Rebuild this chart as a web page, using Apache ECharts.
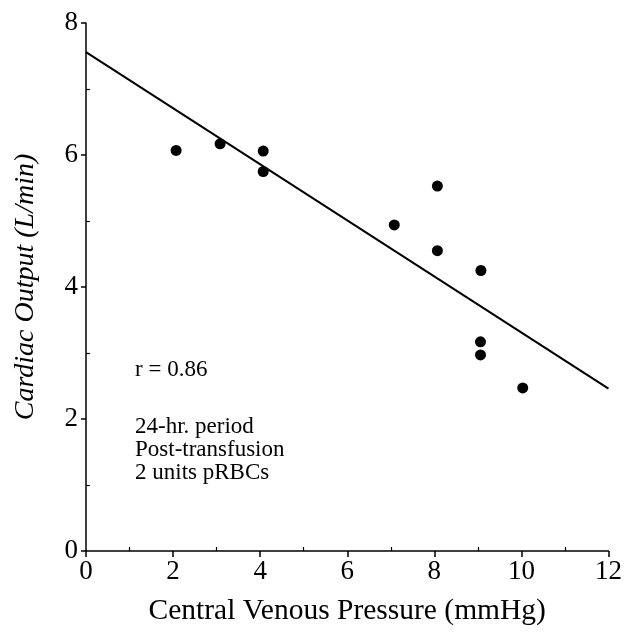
<!DOCTYPE html>
<html>
<head>
<meta charset="utf-8">
<script src="https://cdn.jsdelivr.net/npm/echarts@6/dist/echarts.min.js"></script>
<style>html,body{margin:0;padding:0;background:#fff}#c{width:625px;height:632px}</style>
</head>
<body>
<div id="c"></div>
<script>
// Data
const cvp = [2.07, 3.08, 4.07, 4.07, 7.08, 8.07, 8.07, 9.07, 9.06, 9.06, 10.03];
const cardiacOutput = [6.07, 6.17, 6.06, 5.75, 4.94, 5.53, 4.55, 4.25, 3.17, 2.97, 2.47];
const fitLine = [[0, 7.56], [12, 2.46]];
const xMajorTicks = [0, 2, 4, 6, 8, 10, 12];
const xMinorTicks = [1, 3, 5, 7, 9, 11];
const yMajorTicks = [0, 2, 4, 6, 8];
const yMinorTicks = [1, 3, 5, 7];
const annotations = ['r = 0.86', '24-hr. period', 'Post-transfusion', '2 units pRBCs'];

const FONT = 'Liberation Serif, Times New Roman, serif';
const points = cvp.map((x, i) => [x, cardiacOutput[i]]);

const chart = echarts.init(document.getElementById('c'), null, {renderer: 'canvas'});
const axisBase = {
  type: 'value', splitLine: {show: false}
};
chart.setOption({
  animation: false,
  backgroundColor: '#fff',
  grid: {left: 86, right: 16, top: 23, bottom: 81, containLabel: false},
  xAxis: [
    Object.assign({}, axisBase, {
      min: 0, max: 12, interval: 2, position: 'bottom',
      name: 'Central Venous Pressure (mmHg)', nameLocation: 'middle', nameGap: 45,
      nameTextStyle: {fontFamily: FONT, fontSize: 29.5, color: '#000'},
      axisLine: {show: true, onZero: false, lineStyle: {color: '#000', width: 1.5}},
      axisTick: {show: true, length: 6, customValues: xMajorTicks, lineStyle: {color: '#000', width: 1.5}},
      axisLabel: {show: true, margin: 7, fontFamily: FONT, fontSize: 27, color: '#000', customValues: xMajorTicks}
    }),
    Object.assign({}, axisBase, {
      min: 0, max: 12, interval: 1, position: 'bottom',
      axisLine: {show: false},
      axisTick: {show: true, inside: true, length: 4, customValues: xMinorTicks, lineStyle: {color: '#000', width: 1.2}},
      axisLabel: {show: false}
    })
  ],
  yAxis: [
    Object.assign({}, axisBase, {
      min: 0, max: 8, interval: 2, position: 'left',
      name: 'Cardiac Output (L/min)', nameLocation: 'middle', nameGap: 46, nameRotate: 90,
      nameTextStyle: {fontFamily: FONT, fontSize: 28, fontStyle: 'italic', color: '#000'},
      axisLine: {show: true, onZero: false, lineStyle: {color: '#000', width: 1.5}},
      axisTick: {show: true, length: 5, customValues: yMajorTicks, lineStyle: {color: '#000', width: 1.5}},
      axisLabel: {show: true, margin: 8, fontFamily: FONT, fontSize: 27, color: '#000', customValues: yMajorTicks}
    }),
    Object.assign({}, axisBase, {
      min: 0, max: 8, interval: 1, position: 'left',
      axisLine: {show: false},
      axisTick: {show: true, inside: true, length: 4, customValues: yMinorTicks, lineStyle: {color: '#000', width: 1.2}},
      axisLabel: {show: false}
    })
  ],
  series: [
    {
      type: 'line', data: fitLine, xAxisIndex: 0, yAxisIndex: 0,
      symbol: 'none', lineStyle: {color: '#000', width: 2}, silent: true
    },
    {
      type: 'scatter', data: points, xAxisIndex: 0, yAxisIndex: 0,
      symbol: 'circle', symbolSize: 11, itemStyle: {color: '#000', opacity: 1}
    }
  ],
  graphic: [
    {type: 'text', left: 135, top: 358, style: {text: annotations[0], font: '23px ' + FONT, fill: '#000'}},
    {type: 'text', left: 135, top: 415, style: {text: annotations[1] + '\n' + annotations[2] + '\n' + annotations[3], font: '23px ' + FONT, fill: '#000', lineHeight: 23}}
  ]
});
</script>
</body>
</html>
